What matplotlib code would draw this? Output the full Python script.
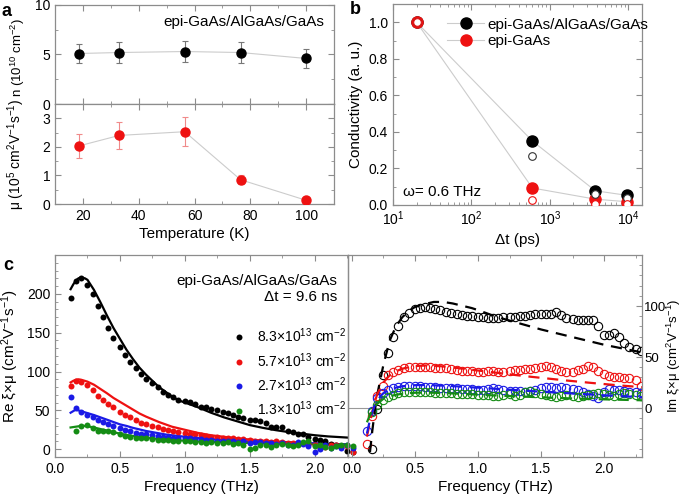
import numpy as np
import matplotlib
matplotlib.use('Agg')
import matplotlib.pyplot as plt
from matplotlib.ticker import MultipleLocator, LogLocator, NullFormatter, FixedLocator

plt.rcParams['font.family'] = ['Liberation Sans', 'DejaVu Sans']
plt.rcParams['mathtext.fontset'] = 'custom'
plt.rcParams['mathtext.rm'] = 'Liberation Sans'
plt.rcParams['mathtext.it'] = 'Liberation Sans:italic'
plt.rcParams['mathtext.bf'] = 'Liberation Sans:bold'

nan = np.nan
BLACK = '#000000'
RED = '#ee1111'
BLUE = '#1a1ae6'
GREEN = '#148c14'
GRAY = '#8c8c8c'

# ---------------- panel a data ----------------
temperature = [18.5, 33, 56.5, 76.5, 100]
density_n = [5.1, 5.2, 5.3, 5.2, 4.6]
density_err = [1.0, 1.05, 1.07, 1.05, 0.93]
mobility = [2.03, 2.4, 2.53, 0.85, 0.13]
mobility_err = [0.42, 0.48, 0.5, 0.15, 0.04]

# ---------------- panel b data ----------------
delay_ps = [20, 600, 3800, 9600]
cond_het_filled = [1.0, 0.35, 0.078, 0.053]
cond_het_open = [1.0, 0.27, 0.06, 0.04]
cond_epi_filled = [1.0, 0.093, 0.032, 0.018]
cond_epi_open = [1.0, 0.027, 0.008, 0.004]

# ---------------- panel c data ----------------
freq = [0.12, 0.16, 0.20, 0.25, 0.29, 0.33, 0.37, 0.41, 0.45, 0.50,
        0.54, 0.58, 0.62, 0.66, 0.70, 0.75, 0.79, 0.83, 0.87, 0.91,
        0.95, 1.00, 1.04, 1.08, 1.12, 1.16, 1.20, 1.25, 1.29, 1.33,
        1.37, 1.41, 1.45, 1.50, 1.54, 1.58, 1.62, 1.66, 1.70, 1.75,
        1.79, 1.83, 1.87, 1.91, 1.95, 2.00, 2.04, 2.08, 2.12, 2.16,
        2.20, 2.25, 2.29]
re_83 = [195, 216, 220, 211, 200, 184, 170, 156, 143, 132, 121, 112, 104, 97, 90, 85, 80, 74, 70, 67,
         64, 62, 61, 58, 55, 54, 52, 50, 48, 46, 44, 42, 40, 38, 37, 36, 34, 29, 28, 29,
         24, 22, 20, 19, 16, 13, 12, 11, 7, 6, 3, -2, -4]
re_57 = [81, 88, 87, 83, 76, 69, 63, 58, 54, 48, 44, 41, 38, 34, 32, 30, 28, 26, 25, 24,
         22, 21, 20, 19, 18.5, 17, 16, 16, 15, 15, 14, 13, 13, 12, 11, 11, 10, 9, 10, 9,
         8, 8, 7, 8, 7, 6, 2, 3, 6, 5, 4, 4, -4]
re_27 = [67, 53, 48, 44, 41, 37, 35, 32, 30, 27, 25, 24, 21.5, 20, 19, 18, 17, 16, 16, 15,
         15, 14, 14, 13.5, 13, 12, 12, 11, 11, 10, 10, 9, 10, 8, 9, 9, 8, 8, 7, 8,
         6, 5, 9, 7, 4, -3, 0, 5, 2, 4, 1, 5, 2]
re_13 = [nan, 23, 30, 31, 27, 24, 24, 24, 22, 19, 17, 16, 15, 15, 14, 13, 12, 12, 12, 11,
         11, 10, 10, 9, 9, 8, 9, 8, 8, 9, 7, 8, 5, 0, 2, 5, 6, 3, 5, 7,
         5, 4, 6, 9, 10, 4, 5, 3, 2, 4, 5, 5, 4]
im_83 = [nan, -40, -1, 32, 54, 70, 80, 89, 93.5, 97, 98.5, 99, 98.5, 97.5, 96, 94, 93, 92, 91, 90.5,
         90, 89.5, 89, 88, 88, 88, 89, 89, 89, 90, 90, 91, 92, 92, 92, 92, 94, 91, 88, 87,
         86, 86, 86, 86, 80, 72, 72, 74, 70, 64, 60, 58, 56]
im_57 = [-35, -8, 12, 22, 32, 35, 37, 39, 40, 40.5, 40.5, 40.5, 40, 39.5, 39, 39, 38, 37, 36.5, 36,
         36, 35.5, 35, 36, 36, 35, 35, 36, 37, 37, 38, 38, 39, 40, 41, 40, 38, 36, 35, 35,
         37, 38, 41, 40, 36, 33, 31, 30, 30, 29, 29, 27, 22]
im_27 = [-23, -3, 10, 15, 17.5, 19.5, 21, 21.5, 22, 22, 21.5, 21, 21, 20.5, 20, 20, 20, 19.5, 19, 19,
         18.5, 18, 18, 19, 20, 19, 18, 17, 17, 17, 16, 17, 18, 20, 21, 21, 20, 21, 20, 19,
         18, 16, 14, 12, 10, 16, 19, 18, 18, 17, 16, 16, 15]
im_13 = [nan, -4, 3, 8, 11, 13, 14.5, 15.5, 16, 16, 16, 15.5, 15.5, 15, 15, 14.5, 14.5, 14, 14, 14,
         13.5, 13, 13, 12.5, 12, 12, 13, 14, 12, 13, 16, 17, 15, 14, 13, 12, 11, 12, 13, 12,
         11, 12, 13, 14, 15, 14, 13, 12, 14, 15, 14, 13, 12]

fit_freq = [0.12, 0.14, 0.16, 0.18, 0.20, 0.23, 0.25, 0.30, 0.35, 0.40, 0.45, 0.50, 0.55, 0.60,
            0.65, 0.70, 0.75, 0.80, 0.85, 0.90, 0.95, 1.00, 1.10, 1.20, 1.30, 1.40, 1.50, 1.60,
            1.70, 1.80, 1.90, 2.00, 2.10, 2.20, 2.30]
fit_re_83 = [206, 212, 217, 220, 221, 220, 218, 205, 189, 172, 156, 142, 128, 116,
             105, 96, 88, 80, 74, 68, 63, 60, 54, 47, 41, 36, 31, 27.5,
             24.5, 22, 20, 18, 16.5, 15.5, 14.5]
fit_re_57 = [86, 88, 89.5, 90, 89.5, 88, 87, 83, 77.5, 72, 66, 61, 56, 51,
             46, 42, 38.5, 35, 32, 29, 27, 25, 21, 18, 16, 14, 12.5, 11,
             10, 9, 8.5, 7.5, 7, 6.5, 6]
fit_re_27 = [47, 49, 51, 50, 49, 47.5, 46.5, 44, 41, 38, 35, 32, 30, 27.5,
             25.5, 23.5, 22, 20.5, 19, 18, 17, 16, 14.5, 13, 12, 11, 10, 9.5,
             9, 8.5, 8, 7.5, 7, 6.5, 6]
fit_re_13 = [28, 28.5, 29, 29.5, 30, 30, 29.5, 28, 26, 24, 22, 20, 18.5, 17,
             16, 15, 14, 13, 12.5, 12, 11.5, 11, 10, 9.5, 9, 8.5, 8, 7.5,
             7, 6.8, 6.5, 6.2, 6, 5.8, 5.5]
fit_im_83 = [-80, -48, -25, -5, 12, 30, 42, 66, 80, 89, 95, 99, 101, 102.5,
             104, 104, 103.5, 102.5, 101, 99.5, 98, 96, 91.5, 87.5, 84, 80.5, 77, 74,
             71, 68, 65, 62, 59.5, 57, 54.5]
fit_im_57 = [-28, -16, -5, 5, 13, 21, 25, 32, 36, 38.5, 40, 41, 41.5, 41.8,
             41.5, 41, 40.5, 39.8, 39, 38.3, 37.5, 36.8, 35.3, 33.8, 32.3, 30.9, 29.6, 28.3,
             27, 25.8, 24.6, 23.5, 22.4, 21.4, 20.4]
fit_im_27 = [-25, -14, -5, 2, 7, 12, 14.5, 18, 20, 21.3, 22, 22.4, 22.5, 22.5,
             22.3, 22, 21.8, 21.5, 21.1, 20.7, 20.3, 20, 19.2, 18.4, 17.6, 16.8, 16, 15.3,
             14.6, 13.9, 13.2, 12.5, 11.8, 11.2, 10.6]
fit_im_13 = [-14, -8, -3, 1, 4, 7, 9, 11.5, 13, 14, 14.6, 15, 15.1, 15.1,
             15, 14.8, 14.6, 14.3, 14, 13.7, 13.4, 13.1, 12.5, 12, 11.5, 11, 10.5, 10,
             9.6, 9.2, 8.8, 8.5, 8.2, 7.9, 7.6]

density_labels = [r'8.3×10$^{13}$ cm$^{-2}$', r'5.7×10$^{13}$ cm$^{-2}$',
                  r'2.7×10$^{13}$ cm$^{-2}$', r'1.3×10$^{13}$ cm$^{-2}$']

W, H = 685, 494
fig = plt.figure(figsize=(W / 100, H / 100), dpi=100)


def rect(x0, y0, x1, y1):
    return [x0 / W, 1 - y1 / H, (x1 - x0) / W, (y1 - y0) / H]


def style(ax, left=True, right=True, top=True, bottom=True):
    ax.tick_params(which='both', direction='in', colors=GRAY, labelcolor='black',
                   labelsize=10, left=left, right=right, top=top, bottom=bottom)
    ax.tick_params(which='major', length=4, width=0.8)
    ax.tick_params(which='minor', length=2, width=0.6)
    for s in ax.spines.values():
        s.set_color(GRAY)
        s.set_linewidth(0.9)


# ---------------- panel a ----------------
ax_n = fig.add_axes(rect(55, 5, 334, 104))
ax_mu = fig.add_axes(rect(55, 104, 334, 204))
for ax in (ax_n, ax_mu):
    style(ax)
    ax.set_xlim(10, 110)
    ax.xaxis.set_major_locator(MultipleLocator(20))
    ax.xaxis.set_minor_locator(MultipleLocator(10))
ax_n.tick_params(labelbottom=False)
ax_n.plot(temperature, density_n, color='#cccccc', lw=0.8, zorder=1)
ax_n.errorbar(temperature, density_n, yerr=density_err, fmt='o', color=BLACK, ms=6.5,
              ecolor='#777777', elinewidth=0.8, capsize=2.5, capthick=0.8, zorder=3)
ax_n.set_ylim(0, 10)
ax_n.yaxis.set_major_locator(FixedLocator([0, 5, 10]))
ax_n.yaxis.set_minor_locator(MultipleLocator(2.5))
ax_n.set_ylabel(r'n (10$^{10}$ cm$^{-2}$)', fontsize=9.5)
ax_n.text(0.965, 0.83, 'epi-GaAs/AlGaAs/GaAs', transform=ax_n.transAxes,
          ha='right', va='center', fontsize=11)

ax_mu.plot(temperature, mobility, color='#cccccc', lw=0.8, zorder=1)
ax_mu.errorbar(temperature, mobility, yerr=mobility_err, fmt='o', color=RED, ms=6.5,
               ecolor='#f08a8a', elinewidth=0.8, capsize=2.5, capthick=0.8, zorder=3)
ax_mu.set_ylim(0, 3.5)
ax_mu.yaxis.set_major_locator(FixedLocator([0, 1, 2, 3]))
ax_mu.yaxis.set_minor_locator(MultipleLocator(0.5))
ax_mu.set_ylabel(r'μ (10$^{5}$ cm$^{2}$V$^{-1}$s$^{-1}$)', fontsize=10)
ax_mu.set_xlabel('Temperature (K)', fontsize=11, labelpad=3)
ax_n.yaxis.set_label_coords(-0.1, 0.47)
ax_mu.yaxis.set_label_coords(-0.1, 0.5)

# ---------------- panel b ----------------
ax_b = fig.add_axes(rect(393, 4, 642, 205))
style(ax_b)
ax_b.set_xscale('log')
ax_b.set_xlim(10, 15000)
ax_b.set_ylim(0, 1.1)
ax_b.xaxis.set_major_locator(LogLocator(base=10, numticks=10))
ax_b.xaxis.set_minor_locator(LogLocator(base=10, subs=np.arange(2, 10), numticks=10))
ax_b.xaxis.set_minor_formatter(NullFormatter())
ax_b.yaxis.set_major_locator(MultipleLocator(0.2))
ax_b.yaxis.set_minor_locator(MultipleLocator(0.1))
ax_b.yaxis.set_major_formatter(plt.FuncFormatter(lambda v, p: f'{v:.1f}'))
ax_b.plot(delay_ps, cond_het_filled, '-o', color='#cccccc', mfc=BLACK, mec=BLACK, ms=8,
          lw=0.8, label='epi-GaAs/AlGaAs/GaAs', zorder=3)
ax_b.plot(delay_ps, cond_epi_filled, '-o', color='#cccccc', mfc=RED, mec=RED, ms=8,
          lw=0.8, label='epi-GaAs', zorder=3)
ax_b.plot(delay_ps, cond_het_open, 'o', mfc='white', mec='#333333', mew=0.8, ms=5.5, zorder=4)
ax_b.plot(delay_ps, cond_epi_open, 'o', mfc='white', mec=RED, mew=0.8, ms=5.5, zorder=5)
ax_b.set_ylabel('Conductivity (a. u.)', fontsize=11, labelpad=4)
ax_b.set_xlabel('Δt (ps)', fontsize=11, labelpad=3)
ax_b.legend(loc='upper left', bbox_to_anchor=(0.175, 0.985), frameon=False, fontsize=11,
            handlelength=2.4, handletextpad=0.2, labelspacing=0.15, borderpad=0.2)
ax_b.text(0.04, 0.065, 'ω= 0.6 THz', transform=ax_b.transAxes, fontsize=11,
          ha='left', va='center')

# ---------------- panel c ----------------
ax_re = fig.add_axes(rect(55, 255, 348, 457))
ax_im = fig.add_axes(rect(348, 255, 642, 457))
style(ax_re, right=False)
style(ax_im, left=False)
ax_im.patch.set_alpha(0)

series_re = [re_83, re_57, re_27, re_13]
series_im = [im_83, im_57, im_27, im_13]
fits_re = [fit_re_83, fit_re_57, fit_re_27, fit_re_13]
fits_im = [fit_im_83, fit_im_57, fit_im_27, fit_im_13]
colors = [BLACK, RED, BLUE, GREEN]

for vals, fit, col, lab in zip(series_re, fits_re, colors, density_labels):
    ax_re.plot(fit_freq, fit, '-', color=col, lw=1.6, zorder=2)
    ax_re.plot(freq, vals, 'o', color=col, ms=4.3, mew=0, label=lab, zorder=3, clip_on=False)
ax_re.set_xlim(0, 2.254)
ax_re.set_ylim(-10, 250)
ax_re.xaxis.set_major_locator(MultipleLocator(0.5))
ax_re.xaxis.set_minor_locator(MultipleLocator(0.25))
ax_re.yaxis.set_major_locator(FixedLocator([0, 50, 100, 150, 200]))
ax_re.yaxis.set_minor_locator(MultipleLocator(10))
ax_re.xaxis.set_major_formatter(plt.FuncFormatter(lambda v, p: f'{v:.1f}'))
ax_re.set_xlabel('Frequency (THz)', fontsize=11, labelpad=3)
ax_re.set_ylabel(r'Re ξ×μ (cm$^{2}$V$^{-1}$s$^{-1}$)', fontsize=11, labelpad=4)
ax_re.text(0.965, 0.87, 'epi-GaAs/AlGaAs/GaAs', transform=ax_re.transAxes,
           ha='right', va='center', fontsize=11)
ax_re.text(0.965, 0.79, 'Δt = 9.6 ns', transform=ax_re.transAxes,
           ha='right', va='center', fontsize=11)
ax_re.legend(loc='upper left', bbox_to_anchor=(0.58, 0.68), frameon=False, fontsize=10,
             handlelength=1.0, handletextpad=0.8, labelspacing=0.42, borderpad=0,
             markerscale=1.0)

ax_im.axhline(0, color='#999999', lw=0.8, zorder=1)
for vals, fit, col in zip(series_im, fits_im, colors):
    ax_im.plot(fit_freq, fit, '--', color=col, lw=1.6, dashes=(5, 3.5), zorder=3)
    ax_im.plot(freq, vals, 'o', mfc='none', mec=col, mew=0.8, ms=6, zorder=2)
ax_im.set_xlim(-0.03, 2.30)
ax_im.set_ylim(-48, 150)
ax_im.xaxis.set_major_locator(MultipleLocator(0.5))
ax_im.xaxis.set_minor_locator(MultipleLocator(0.25))
ax_im.xaxis.set_major_formatter(plt.FuncFormatter(lambda v, p: f'{v:.1f}'))
ax_im.yaxis.set_major_locator(FixedLocator([0, 50, 100]))
ax_im.yaxis.set_minor_locator(MultipleLocator(10))
ax_im.yaxis.tick_right()
ax_im.tick_params(which='both', left=False, right=True)
ax_im.tick_params(axis='y', which='major', pad=1.5, labelsize=9.5)
ax_im.yaxis.set_label_position('right')
ax_im.set_ylabel(r'Im ξ×μ (cm$^{2}$V$^{-1}$s$^{-1}$)', fontsize=9.5)
ax_im.yaxis.set_label_coords(1.077, 0.5)
ax_im.set_xlabel('Frequency (THz)', fontsize=11, labelpad=3)

# panel letters
fig.text(2 / W, 1 - 11 / H, 'a', fontsize=13, fontweight='bold', va='center', ha='left')
fig.text(350 / W, 1 - 10 / H, 'b', fontsize=13, fontweight='bold', va='center', ha='left')
fig.text(3 / W, 1 - 265 / H, 'c', fontsize=13, fontweight='bold', va='center', ha='left')

fig.savefig('out.png', dpi=100)
